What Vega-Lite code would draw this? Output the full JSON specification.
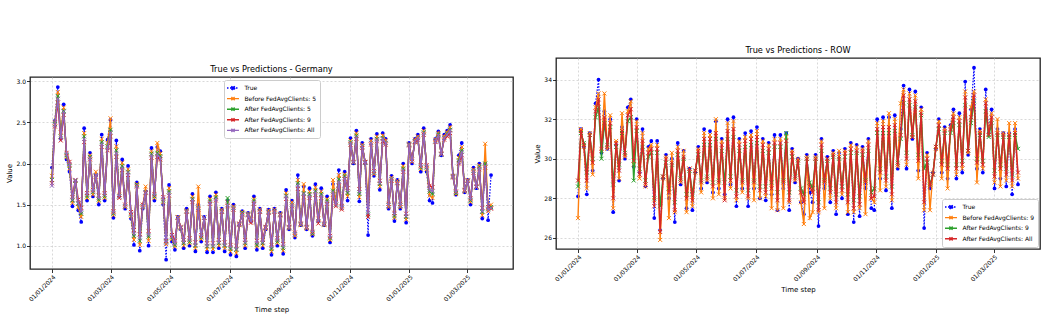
{
"$schema":"https://vega.github.io/schema/vega-lite/v6.json",
"padding":{"left":5,"top":45,"right":4,"bottom":2},
"datasets":{"ts":[
{"d":"2024-01-01","gt":1.95,"gb":1.85,"g5":1.80,"g9":1.76,"ga":1.73,"rt":28.1,"rb":27.0,"r9":28.6,"ra":28.9},
{"d":"2024-01-04","gt":2.52,"gb":2.50,"g5":2.48,"g9":2.45,"ga":2.47,"rt":31.5,"rb":31.5,"r9":31.3,"ra":31.4},
{"d":"2024-01-07","gt":2.93,"gb":2.87,"g5":2.82,"g9":2.74,"ga":2.79,"rt":30.6,"rb":30.6,"r9":30.8,"ra":30.7},
{"d":"2024-01-10","gt":2.30,"gb":2.38,"g5":2.33,"g9":2.28,"ga":2.31,"rt":28.2,"rb":28.5,"r9":29.3,"ra":28.9},
{"d":"2024-01-13","gt":2.72,"gb":2.68,"g5":2.64,"g9":2.59,"ga":2.63,"rt":31.3,"rb":31.3,"r9":31.2,"ra":31.2},
{"d":"2024-01-16","gt":2.05,"gb":2.08,"g5":2.10,"g9":2.13,"ga":2.11,"rt":29.4,"rb":29.2,"r9":30.0,"ra":29.8},
{"d":"2024-01-19","gt":1.90,"gb":1.94,"g5":1.97,"g9":2.02,"ga":1.99,"rt":32.8,"rb":32.6,"r9":32.1,"ra":32.4},
{"d":"2024-01-22","gt":1.48,"gb":1.52,"g5":1.55,"g9":1.59,"ga":1.56,"rt":34.0,"rb":33.3,"r9":32.6,"ra":33.0},
{"d":"2024-01-25","gt":1.78,"gb":1.79,"g5":1.79,"g9":1.80,"ga":1.80,"rt":30.3,"rb":30.4,"r9":30.0,"ra":30.5},
{"d":"2024-01-28","gt":1.43,"gb":1.47,"g5":1.51,"g9":1.56,"ga":1.52,"rt":32.4,"rb":33.3,"r9":31.8,"ra":32.1},
{"d":"2024-01-31","gt":1.29,"gb":1.35,"g5":1.39,"g9":1.46,"ga":1.41,"rt":30.5,"rb":30.5,"r9":30.7,"ra":30.6},
{"d":"2024-02-03","gt":2.43,"gb":2.37,"g5":2.33,"g9":2.26,"ga":2.30,"rt":32.0,"rb":32.2,"r9":31.6,"ra":31.8},
{"d":"2024-02-06","gt":1.55,"gb":1.58,"g5":1.60,"g9":1.64,"ga":1.62,"rt":27.3,"rb":27.5,"r9":28.7,"ra":28.0},
{"d":"2024-02-09","gt":2.13,"gb":2.10,"g5":2.08,"g9":2.05,"ga":2.07,"rt":30.7,"rb":30.9,"r9":30.6,"ra":30.8},
{"d":"2024-02-12","gt":1.60,"gb":1.62,"g5":1.65,"g9":1.68,"ga":1.66,"rt":28.9,"rb":29.0,"r9":29.7,"ra":29.4},
{"d":"2024-02-15","gt":1.86,"gb":1.90,"g5":1.86,"g9":1.84,"ga":1.86,"rt":31.6,"rb":32.3,"r9":31.3,"ra":31.4},
{"d":"2024-02-18","gt":1.50,"gb":1.54,"g5":1.56,"g9":1.61,"ga":1.58,"rt":30.0,"rb":30.1,"r9":30.3,"ra":30.2},
{"d":"2024-02-21","gt":2.35,"gb":2.30,"g5":2.26,"g9":2.20,"ga":2.24,"rt":32.6,"rb":32.4,"r9":31.9,"ra":32.2},
{"d":"2024-02-24","gt":1.55,"gb":1.58,"g5":1.60,"g9":1.64,"ga":1.62,"rt":33.0,"rb":32.9,"r9":32.1,"ra":32.5},
{"d":"2024-02-27","gt":2.29,"gb":2.25,"g5":2.21,"g9":2.16,"ga":2.19,"rt":29.6,"rb":29.7,"r9":28.9,"ra":29.9},
{"d":"2024-03-01","gt":2.53,"gb":2.55,"g5":2.41,"g9":2.33,"ga":2.38,"rt":32.0,"rb":31.9,"r9":31.4,"ra":31.6},
{"d":"2024-03-04","gt":1.34,"gb":1.37,"g5":1.39,"g9":1.42,"ga":1.40,"rt":29.3,"rb":29.0,"r9":29.5,"ra":29.2},
{"d":"2024-03-07","gt":2.28,"gb":2.21,"g5":2.16,"g9":2.08,"ga":2.13,"rt":31.5,"rb":31.3,"r9":30.6,"ra":30.9},
{"d":"2024-03-10","gt":1.60,"gb":1.62,"g5":1.60,"g9":1.58,"ga":1.60,"rt":28.6,"rb":28.6,"r9":28.9,"ra":28.7},
{"d":"2024-03-13","gt":2.05,"gb":2.01,"g5":1.97,"g9":1.92,"ga":1.95,"rt":30.6,"rb":30.5,"r9":30.1,"ra":30.3},
{"d":"2024-03-16","gt":1.45,"gb":1.47,"g5":1.48,"g9":1.50,"ga":1.48,"rt":30.9,"rb":30.7,"r9":30.3,"ra":30.5},
{"d":"2024-03-19","gt":1.97,"gb":1.93,"g5":1.90,"g9":1.86,"ga":1.89,"rt":27.0,"rb":27.9,"r9":28.0,"ra":27.6},
{"d":"2024-03-22","gt":1.33,"gb":1.36,"g5":1.38,"g9":1.41,"ga":1.39,"rt":30.9,"rb":30.7,"r9":30.3,"ra":30.5},
{"d":"2024-03-25","gt":1.01,"gb":1.07,"g5":1.12,"g9":1.19,"ga":1.14,"rt":26.4,"rb":25.9,"r9":27.6,"ra":26.3},
{"d":"2024-03-28","gt":1.77,"gb":1.75,"g5":1.74,"g9":1.72,"ga":1.73,"rt":29.0,"rb":29.0,"r9":29.1,"ra":29.1},
{"d":"2024-03-31","gt":0.94,"gb":1.01,"g5":1.06,"g9":1.14,"ga":1.09,"rt":30.2,"rb":30.1,"r9":29.8,"ra":30.0},
{"d":"2024-04-03","gt":1.45,"gb":1.47,"g5":1.48,"g9":1.50,"ga":1.48,"rt":28.0,"rb":27.0,"r9":28.5,"ra":28.3},
{"d":"2024-04-06","gt":1.66,"gb":1.72,"g5":1.65,"g9":1.64,"ga":1.65,"rt":30.0,"rb":30.3,"r9":29.7,"ra":29.8},
{"d":"2024-04-09","gt":1.00,"gb":1.06,"g5":1.11,"g9":1.18,"ga":1.13,"rt":26.8,"rb":27.3,"r9":27.8,"ra":27.4},
{"d":"2024-04-12","gt":2.19,"gb":2.15,"g5":2.12,"g9":2.07,"ga":2.10,"rt":30.8,"rb":30.6,"r9":30.2,"ra":30.4},
{"d":"2024-04-15","gt":1.55,"gb":1.58,"g5":1.60,"g9":1.63,"ga":1.61,"rt":28.7,"rb":28.8,"r9":29.0,"ra":28.9},
{"d":"2024-04-18","gt":2.20,"gb":2.25,"g5":2.13,"g9":2.08,"ga":2.11,"rt":30.4,"rb":30.4,"r9":30.0,"ra":30.1},
{"d":"2024-04-21","gt":2.15,"gb":2.12,"g5":2.09,"g9":2.05,"ga":2.07,"rt":27.5,"rb":27.3,"r9":28.2,"ra":28.0},
{"d":"2024-04-24","gt":1.50,"gb":1.53,"g5":1.55,"g9":1.59,"ga":1.57,"rt":29.5,"rb":29.5,"r9":29.4,"ra":29.5},
{"d":"2024-04-27","gt":0.83,"gb":1.02,"g5":1.05,"g9":1.06,"ga":1.04,"rt":27.4,"rb":27.6,"r9":28.2,"ra":27.9},
{"d":"2024-04-30","gt":1.74,"gb":1.70,"g5":1.66,"g9":1.61,"ga":1.64,"rt":29.3,"rb":29.3,"r9":29.4,"ra":29.4},
{"d":"2024-05-03","gt":1.05,"gb":1.08,"g5":1.10,"g9":1.13,"ga":1.11,"rt":30.6,"rb":30.5,"r9":30.2,"ra":30.4},
{"d":"2024-05-06","gt":0.95,"gb":0.99,"g5":1.01,"g9":1.06,"ga":1.03,"rt":28.5,"rb":28.3,"r9":28.9,"ra":28.8},
{"d":"2024-05-09","gt":1.35,"gb":1.35,"g5":1.34,"g9":1.34,"ga":1.34,"rt":31.5,"rb":31.3,"r9":30.7,"ra":31.0},
{"d":"2024-05-12","gt":1.20,"gb":1.21,"g5":1.22,"g9":1.23,"ga":1.22,"rt":28.8,"rb":28.9,"r9":29.1,"ra":29.0},
{"d":"2024-05-15","gt":0.97,"gb":1.00,"g5":1.03,"g9":1.07,"ga":1.04,"rt":31.4,"rb":31.2,"r9":30.7,"ra":31.0},
{"d":"2024-05-18","gt":1.45,"gb":1.43,"g5":1.42,"g9":1.41,"ga":1.42,"rt":28.3,"rb":28.0,"r9":28.8,"ra":28.6},
{"d":"2024-05-21","gt":1.00,"gb":1.03,"g5":1.05,"g9":1.09,"ga":1.07,"rt":31.9,"rb":32.0,"r9":31.0,"ra":31.3},
{"d":"2024-05-24","gt":1.63,"gb":1.60,"g5":1.57,"g9":1.53,"ga":1.56,"rt":28.5,"rb":28.2,"r9":28.9,"ra":28.8},
{"d":"2024-05-27","gt":0.93,"gb":0.97,"g5":1.00,"g9":1.04,"ga":1.01,"rt":31.0,"rb":30.9,"r9":30.4,"ra":30.7},
{"d":"2024-05-30","gt":1.50,"gb":1.72,"g5":1.46,"g9":1.44,"ga":1.46,"rt":28.2,"rb":28.0,"r9":28.8,"ra":27.9},
{"d":"2024-06-02","gt":1.05,"gb":1.08,"g5":1.10,"g9":1.13,"ga":1.11,"rt":32.0,"rb":31.8,"r9":31.0,"ra":31.4},
{"d":"2024-06-05","gt":1.35,"gb":1.34,"g5":1.34,"g9":1.34,"ga":1.34,"rt":28.7,"rb":28.5,"r9":29.1,"ra":28.9},
{"d":"2024-06-08","gt":0.92,"gb":0.96,"g5":0.99,"g9":1.03,"ga":1.00,"rt":32.1,"rb":31.9,"r9":31.1,"ra":31.5},
{"d":"2024-06-11","gt":1.60,"gb":1.57,"g5":1.55,"g9":1.51,"ga":1.53,"rt":27.6,"rb":27.9,"r9":28.4,"ra":28.1},
{"d":"2024-06-14","gt":0.92,"gb":0.96,"g5":0.99,"g9":1.03,"ga":1.00,"rt":31.0,"rb":30.9,"r9":30.4,"ra":30.7},
{"d":"2024-06-17","gt":1.65,"gb":1.62,"g5":1.59,"g9":1.55,"ga":1.57,"rt":28.5,"rb":28.3,"r9":28.9,"ra":28.8},
{"d":"2024-06-20","gt":0.97,"gb":1.00,"g5":1.03,"g9":1.07,"ga":1.04,"rt":31.3,"rb":31.1,"r9":30.6,"ra":30.9},
{"d":"2024-06-23","gt":1.45,"gb":1.44,"g5":1.42,"g9":1.41,"ga":1.42,"rt":27.6,"rb":28.0,"r9":28.4,"ra":28.1},
{"d":"2024-06-26","gt":0.93,"gb":0.97,"g5":1.00,"g9":1.04,"ga":1.01,"rt":31.4,"rb":31.2,"r9":30.7,"ra":31.0},
{"d":"2024-06-29","gt":1.55,"gb":1.53,"g5":1.58,"g9":1.48,"ga":1.50,"rt":28.5,"rb":27.9,"r9":28.9,"ra":28.8},
{"d":"2024-07-02","gt":0.89,"gb":0.93,"g5":0.96,"g9":1.01,"ga":0.98,"rt":31.6,"rb":31.4,"r9":30.8,"ra":31.1},
{"d":"2024-07-05","gt":1.50,"gb":1.48,"g5":1.46,"g9":1.44,"ga":1.46,"rt":28.0,"rb":28.0,"r9":28.6,"ra":28.4},
{"d":"2024-07-08","gt":0.87,"gb":0.91,"g5":0.95,"g9":1.00,"ga":0.96,"rt":31.0,"rb":30.9,"r9":30.4,"ra":30.7},
{"d":"2024-07-11","gt":1.25,"gb":1.25,"g5":1.26,"g9":1.27,"ga":1.26,"rt":27.9,"rb":28.1,"r9":28.6,"ra":28.3},
{"d":"2024-07-14","gt":1.42,"gb":1.41,"g5":1.40,"g9":1.38,"ga":1.39,"rt":30.8,"rb":30.7,"r9":30.3,"ra":30.5},
{"d":"2024-07-17","gt":0.97,"gb":1.00,"g5":1.03,"g9":1.07,"ga":1.04,"rt":28.2,"rb":27.5,"r9":28.8,"ra":28.5},
{"d":"2024-07-20","gt":1.40,"gb":1.39,"g5":1.38,"g9":1.37,"ga":1.38,"rt":31.2,"rb":31.0,"r9":30.6,"ra":30.8},
{"d":"2024-07-23","gt":1.30,"gb":1.32,"g5":1.30,"g9":1.28,"ga":1.30,"rt":27.4,"rb":27.4,"r9":28.3,"ra":27.9},
{"d":"2024-07-26","gt":1.60,"gb":1.57,"g5":1.55,"g9":1.51,"ga":1.53,"rt":31.2,"rb":31.0,"r9":30.6,"ra":30.8},
{"d":"2024-07-29","gt":0.95,"gb":0.99,"g5":1.01,"g9":1.06,"ga":1.03,"rt":28.5,"rb":27.5,"r9":28.9,"ra":28.8},
{"d":"2024-08-01","gt":1.45,"gb":1.44,"g5":1.42,"g9":1.41,"ga":1.42,"rt":31.3,"rb":31.1,"r9":31.3,"ra":30.9},
{"d":"2024-08-04","gt":0.97,"gb":1.00,"g5":1.03,"g9":1.07,"ga":1.04,"rt":27.4,"rb":27.8,"r9":28.3,"ra":27.9},
{"d":"2024-08-07","gt":1.20,"gb":1.21,"g5":1.22,"g9":1.23,"ga":1.22,"rt":30.5,"rb":30.4,"r9":30.1,"ra":30.3},
{"d":"2024-08-10","gt":1.44,"gb":1.43,"g5":1.41,"g9":1.40,"ga":1.41,"rt":28.8,"rb":28.9,"r9":29.1,"ra":29.0},
{"d":"2024-08-13","gt":0.89,"gb":0.93,"g5":0.96,"g9":1.01,"ga":0.98,"rt":30.0,"rb":30.0,"r9":29.8,"ra":29.9},
{"d":"2024-08-16","gt":1.45,"gb":1.44,"g5":1.42,"g9":1.41,"ga":1.42,"rt":27.8,"rb":27.8,"r9":28.5,"ra":28.3},
{"d":"2024-08-19","gt":1.00,"gb":1.03,"g5":1.05,"g9":1.09,"ga":1.07,"rt":27.2,"rb":26.7,"r9":28.2,"ra":27.8},
{"d":"2024-08-22","gt":1.40,"gb":1.39,"g5":1.38,"g9":1.37,"ga":1.38,"rt":30.2,"rb":30.1,"r9":30.0,"ra":30.0},
{"d":"2024-08-25","gt":0.90,"gb":0.94,"g5":0.97,"g9":1.02,"ga":0.99,"rt":28.3,"rb":27.0,"r9":28.8,"ra":28.6},
{"d":"2024-08-28","gt":1.68,"gb":1.64,"g5":1.61,"g9":1.57,"ga":1.60,"rt":27.8,"rb":27.3,"r9":28.5,"ra":28.3},
{"d":"2024-08-31","gt":1.20,"gb":1.21,"g5":1.22,"g9":1.23,"ga":1.22,"rt":30.2,"rb":30.1,"r9":30.0,"ra":30.0},
{"d":"2024-09-03","gt":1.55,"gb":1.53,"g5":1.50,"g9":1.48,"ga":1.50,"rt":26.6,"rb":27.3,"r9":27.8,"ra":27.4},
{"d":"2024-09-06","gt":1.10,"gb":1.12,"g5":1.14,"g9":1.16,"ga":1.14,"rt":31.0,"rb":30.9,"r9":30.4,"ra":30.7},
{"d":"2024-09-09","gt":1.86,"gb":1.80,"g5":1.76,"g9":1.69,"ga":1.74,"rt":28.5,"rb":27.5,"r9":28.9,"ra":28.8},
{"d":"2024-09-12","gt":1.25,"gb":1.25,"g5":1.26,"g9":1.27,"ga":1.26,"rt":30.1,"rb":30.0,"r9":29.9,"ra":30.0},
{"d":"2024-09-15","gt":1.72,"gb":1.75,"g5":1.64,"g9":1.59,"ga":1.63,"rt":27.8,"rb":28.0,"r9":28.5,"ra":28.3},
{"d":"2024-09-18","gt":1.20,"gb":1.21,"g5":1.22,"g9":1.23,"ga":1.22,"rt":30.4,"rb":30.3,"r9":30.1,"ra":30.2},
{"d":"2024-09-21","gt":1.70,"gb":1.66,"g5":1.63,"g9":1.58,"ga":1.61,"rt":27.2,"rb":27.5,"r9":28.2,"ra":27.8},
{"d":"2024-09-24","gt":1.12,"gb":1.14,"g5":1.15,"g9":1.17,"ga":1.16,"rt":30.3,"rb":30.4,"r9":30.0,"ra":30.1},
{"d":"2024-09-27","gt":1.75,"gb":1.71,"g5":1.67,"g9":1.62,"ga":1.65,"rt":28.0,"rb":28.2,"r9":28.6,"ra":28.4},
{"d":"2024-09-30","gt":1.30,"gb":1.33,"g5":1.30,"g9":1.27,"ga":1.30,"rt":30.5,"rb":30.4,"r9":30.1,"ra":30.3},
{"d":"2024-10-03","gt":1.70,"gb":1.66,"g5":1.63,"g9":1.58,"ga":1.61,"rt":27.2,"rb":27.3,"r9":28.2,"ra":27.8},
{"d":"2024-10-06","gt":1.25,"gb":1.25,"g5":1.26,"g9":1.27,"ga":1.26,"rt":30.8,"rb":30.7,"r9":30.3,"ra":30.5},
{"d":"2024-10-09","gt":1.60,"gb":1.57,"g5":1.55,"g9":1.51,"ga":1.53,"rt":26.8,"rb":27.3,"r9":27.9,"ra":27.5},
{"d":"2024-10-12","gt":1.04,"gb":1.07,"g5":1.09,"g9":1.12,"ga":1.10,"rt":30.7,"rb":30.6,"r9":30.3,"ra":30.4},
{"d":"2024-10-15","gt":1.75,"gb":1.80,"g5":1.67,"g9":1.62,"ga":1.65,"rt":27.1,"rb":27.5,"r9":28.1,"ra":27.7},
{"d":"2024-10-18","gt":1.55,"gb":1.53,"g5":1.50,"g9":1.48,"ga":1.50,"rt":30.6,"rb":30.5,"r9":30.2,"ra":30.4},
{"d":"2024-10-21","gt":1.92,"gb":1.86,"g5":1.81,"g9":1.73,"ga":1.78,"rt":28.5,"rb":27.2,"r9":28.9,"ra":28.8},
{"d":"2024-10-24","gt":1.50,"gb":1.48,"g5":1.46,"g9":1.44,"ga":1.46,"rt":31.0,"rb":30.9,"r9":30.4,"ra":30.7},
{"d":"2024-10-27","gt":1.90,"gb":1.87,"g5":1.85,"g9":1.81,"ga":1.83,"rt":27.5,"rb":28.0,"r9":28.3,"ra":28.0},
{"d":"2024-10-30","gt":1.55,"gb":1.60,"g5":1.64,"g9":1.70,"ga":1.66,"rt":27.4,"rb":27.8,"r9":28.5,"ra":28.1},
{"d":"2024-11-02","gt":2.31,"gb":2.28,"g5":2.26,"g9":2.23,"ga":2.25,"rt":32.0,"rb":31.8,"r9":31.3,"ra":31.5},
{"d":"2024-11-05","gt":2.00,"gb":2.01,"g5":2.01,"g9":2.02,"ga":2.01,"rt":29.0,"rb":28.4,"r9":29.5,"ra":29.3},
{"d":"2024-11-08","gt":2.40,"gb":2.37,"g5":2.34,"g9":2.30,"ga":2.32,"rt":32.1,"rb":31.9,"r9":31.3,"ra":31.6},
{"d":"2024-11-11","gt":1.54,"gb":1.59,"g5":1.63,"g9":1.69,"ga":1.65,"rt":28.4,"rb":28.6,"r9":29.1,"ra":28.9},
{"d":"2024-11-14","gt":2.25,"gb":2.23,"g5":2.21,"g9":2.19,"ga":2.21,"rt":32.1,"rb":32.3,"r9":31.3,"ra":31.6},
{"d":"2024-11-17","gt":2.00,"gb":2.01,"g5":2.01,"g9":2.02,"ga":2.01,"rt":27.5,"rb":27.9,"r9":28.6,"ra":28.2},
{"d":"2024-11-20","gt":1.13,"gb":1.58,"g5":1.38,"g9":1.35,"ga":1.40,"rt":32.2,"rb":32.0,"r9":31.4,"ra":31.7},
{"d":"2024-11-23","gt":2.30,"gb":2.28,"g5":2.25,"g9":2.23,"ga":2.25,"rt":29.5,"rb":29.6,"r9":29.8,"ra":29.7},
{"d":"2024-11-26","gt":1.85,"gb":1.87,"g5":1.89,"g9":1.91,"ga":1.89,"rt":31.5,"rb":32.8,"r9":31.0,"ra":31.2},
{"d":"2024-11-29","gt":2.36,"gb":2.33,"g5":2.30,"g9":2.27,"ga":2.29,"rt":33.7,"rb":33.5,"r9":32.8,"ra":33.2},
{"d":"2024-12-02","gt":1.68,"gb":1.72,"g5":1.75,"g9":1.79,"ga":1.76,"rt":29.5,"rb":29.7,"r9":30.3,"ra":30.0},
{"d":"2024-12-05","gt":2.37,"gb":2.34,"g5":2.31,"g9":2.27,"ga":2.30,"rt":33.5,"rb":33.3,"r9":32.7,"ra":33.0},
{"d":"2024-12-08","gt":2.30,"gb":2.28,"g5":2.25,"g9":2.23,"ga":2.25,"rt":31.0,"rb":31.1,"r9":31.2,"ra":31.1},
{"d":"2024-12-11","gt":1.45,"gb":1.47,"g5":1.49,"g9":1.51,"ga":1.49,"rt":33.4,"rb":33.2,"r9":32.6,"ra":32.9},
{"d":"2024-12-14","gt":1.85,"gb":1.83,"g5":1.81,"g9":1.79,"ga":1.81,"rt":29.4,"rb":29.0,"r9":30.2,"ra":29.9},
{"d":"2024-12-17","gt":1.30,"gb":1.34,"g5":1.36,"g9":1.40,"ga":1.38,"rt":32.6,"rb":32.5,"r9":32.2,"ra":32.3},
{"d":"2024-12-20","gt":1.80,"gb":1.79,"g5":1.77,"g9":1.76,"ga":1.77,"rt":26.5,"rb":27.4,"r9":29.5,"ra":27.8},
{"d":"2024-12-23","gt":1.45,"gb":1.47,"g5":1.49,"g9":1.51,"ga":1.49,"rt":30.3,"rb":30.2,"r9":29.8,"ra":30.0},
{"d":"2024-12-26","gt":2.00,"gb":1.97,"g5":1.94,"g9":1.90,"ga":1.92,"rt":28.5,"rb":27.4,"r9":28.7,"ra":28.6},
{"d":"2024-12-29","gt":1.28,"gb":1.32,"g5":1.35,"g9":1.39,"ga":1.36,"rt":29.3,"rb":29.3,"r9":29.2,"ra":29.2},
{"d":"2025-01-01","gt":2.25,"gb":2.24,"g5":2.23,"g9":2.22,"ga":2.23,"rt":30.5,"rb":30.5,"r9":30.6,"ra":30.6},
{"d":"2025-01-04","gt":2.00,"gb":2.02,"g5":2.03,"g9":2.05,"ga":2.03,"rt":32.0,"rb":31.9,"r9":31.5,"ra":31.7},
{"d":"2025-01-07","gt":2.30,"gb":2.29,"g5":2.27,"g9":2.26,"ga":2.27,"rt":29.3,"rb":29.0,"r9":29.9,"ra":29.7},
{"d":"2025-01-10","gt":2.35,"gb":2.33,"g5":2.31,"g9":2.29,"ga":2.31,"rt":31.6,"rb":31.5,"r9":31.3,"ra":31.4},
{"d":"2025-01-13","gt":1.90,"gb":1.93,"g5":1.95,"g9":1.98,"ga":1.96,"rt":29.0,"rb":28.5,"r9":29.7,"ra":29.5},
{"d":"2025-01-16","gt":2.43,"gb":2.40,"g5":2.38,"g9":2.35,"ga":2.37,"rt":31.7,"rb":31.6,"r9":31.3,"ra":31.5},
{"d":"2025-01-19","gt":1.90,"gb":1.93,"g5":1.95,"g9":1.98,"ga":1.96,"rt":32.5,"rb":32.3,"r9":31.8,"ra":32.1},
{"d":"2025-01-22","gt":1.55,"gb":1.61,"g5":1.66,"g9":1.73,"ga":1.68,"rt":29.0,"rb":29.2,"r9":29.7,"ra":29.5},
{"d":"2025-01-25","gt":1.52,"gb":1.58,"g5":1.63,"g9":1.71,"ga":1.66,"rt":32.3,"rb":32.1,"r9":31.7,"ra":31.9},
{"d":"2025-01-28","gt":2.30,"gb":2.29,"g5":2.27,"g9":2.26,"ga":2.27,"rt":29.3,"rb":29.5,"r9":29.9,"ra":29.7},
{"d":"2025-01-31","gt":2.39,"gb":2.37,"g5":2.35,"g9":2.32,"ga":2.34,"rt":33.9,"rb":33.4,"r9":32.7,"ra":33.1},
{"d":"2025-02-03","gt":2.10,"gb":2.11,"g5":2.11,"g9":2.12,"ga":2.11,"rt":30.2,"rb":30.3,"r9":30.4,"ra":30.4},
{"d":"2025-02-06","gt":2.35,"gb":2.33,"g5":2.31,"g9":2.29,"ga":2.31,"rt":32.5,"rb":32.6,"r9":31.8,"ra":32.1},
{"d":"2025-02-09","gt":2.40,"gb":2.38,"g5":2.36,"g9":2.33,"ga":2.35,"rt":34.6,"rb":33.4,"r9":32.9,"ra":33.2},
{"d":"2025-02-12","gt":2.47,"gb":2.44,"g5":2.41,"g9":2.37,"ga":2.40,"rt":29.5,"rb":28.8,"r9":30.0,"ra":29.8},
{"d":"2025-02-15","gt":1.86,"gb":1.85,"g5":1.84,"g9":1.83,"ga":1.84,"rt":31.5,"rb":31.4,"r9":31.2,"ra":31.3},
{"d":"2025-02-18","gt":1.62,"gb":1.63,"g5":1.64,"g9":1.66,"ga":1.65,"rt":29.3,"rb":29.5,"r9":29.9,"ra":29.7},
{"d":"2025-02-21","gt":2.10,"gb":2.07,"g5":2.04,"g9":2.00,"ga":2.02,"rt":33.5,"rb":33.0,"r9":32.4,"ra":32.8},
{"d":"2025-02-24","gt":2.25,"gb":2.20,"g5":2.16,"g9":2.10,"ga":2.14,"rt":31.3,"rb":31.2,"r9":31.1,"ra":31.2},
{"d":"2025-02-27","gt":1.65,"gb":1.66,"g5":1.67,"g9":1.68,"ga":1.67,"rt":32.5,"rb":32.3,"r9":31.8,"ra":32.1},
{"d":"2025-03-02","gt":1.80,"gb":1.80,"g5":1.79,"g9":1.79,"ga":1.79,"rt":28.5,"rb":28.8,"r9":29.4,"ra":29.1},
{"d":"2025-03-05","gt":1.50,"gb":1.53,"g5":1.55,"g9":1.58,"ga":1.56,"rt":31.5,"rb":32.0,"r9":31.2,"ra":31.3},
{"d":"2025-03-08","gt":1.95,"gb":1.93,"g5":1.91,"g9":1.89,"ga":1.91,"rt":29.0,"rb":28.6,"r9":29.7,"ra":29.5},
{"d":"2025-03-11","gt":1.70,"gb":1.71,"g5":1.71,"g9":1.72,"ga":1.71,"rt":31.3,"rb":31.3,"r9":31.1,"ra":31.2},
{"d":"2025-03-14","gt":2.00,"gb":1.98,"g5":1.96,"g9":1.93,"ga":1.95,"rt":28.6,"rb":28.9,"r9":29.5,"ra":29.2},
{"d":"2025-03-17","gt":1.33,"gb":1.37,"g5":1.41,"g9":1.46,"ga":1.42,"rt":31.3,"rb":31.8,"r9":31.1,"ra":31.2},
{"d":"2025-03-20","gt":2.00,"gb":2.24,"g5":2.00,"g9":1.95,"ga":1.97,"rt":28.2,"rb":28.6,"r9":29.2,"ra":28.9},
{"d":"2025-03-23","gt":1.31,"gb":1.42,"g5":1.45,"g9":1.47,"ga":1.44,"rt":31.5,"rb":31.8,"r9":31.2,"ra":31.3},
{"d":"2025-03-26","gt":1.86,"gb":1.50,"g5":1.47,"g9":1.45,"ga":1.46,"rt":28.7,"rb":29.0,"r9":30.5,"ra":29.3}
]},
"data":{"name":"ts"},
"spacing":19,
"resolve":{"scale":{"x":"independent","y":"independent","color":"independent"},"legend":{"color":"independent"}},
"hconcat":[
{"spacing":0,
 "resolve":{"scale":{"color":"independent"},"legend":{"color":"independent"}},
 "vconcat":[
 {"width":483,"height":6,"view":{"stroke":null},"mark":{"type":"rule","opacity":0},"encoding":{}},
 {
 "width":483,"height":192,
 "title":"True vs Predictions - Germany",
 "encoding":{"x":{"field":"d","type":"temporal","title":"Time step",
   "scale":{"type":"utc","domain":[{"year":2023,"month":12,"date":9,"hours":12,"utc":true},{"year":2025,"month":4,"date":17,"hours":12,"utc":true}]},
   "axis":{"values":[{"year":2024,"month":1,"date":1,"utc":true},{"year":2024,"month":3,"date":1,"utc":true},{"year":2024,"month":5,"date":1,"utc":true},{"year":2024,"month":7,"date":1,"utc":true},{"year":2024,"month":9,"date":1,"utc":true},{"year":2024,"month":11,"date":1,"utc":true},{"year":2025,"month":1,"date":1,"utc":true},{"year":2025,"month":3,"date":1,"utc":true}],
    "labelExpr":"utcFormat(datum.value, '%d/%m/%Y')","labelAngle":-45,"labelAlign":"right","labelBaseline":"top"}}},
 "layer":[
 {"mark":{"type":"line","color":"#0000ff","strokeWidth":1.2,"strokeDash":[1.5,1.5],"point":{"filled":true,"size":14}},
  "encoding":{"y":{"field":"gt","type":"quantitative","title":"Value","scale":{"domain":[0.717,3.052],"nice":false,"zero":false},"axis":{"values":[1.0,1.5,2.0,2.5,3.0],"format":".1f"}},
   "color":{"datum":"True","type":"nominal",
    "scale":{"domain":["True","Before FedAvgClients: 5","After FedAvgClients: 5","After FedAvgClients: 9","After FedAvgClients: All"],"range":["#0000ff","#ff7f0e","#2ca02c","#d62728","#9467bd"]},
    "legend":{"title":null,"orient":"none","legendX":194,"legendY":3,
     "encode":{"symbols":{"update":{
      "shape":{"signal":"datum.value === 'True' ? 'M-1.5,0H1.5M0.45,0A0.45,0.45,0,1,1,-0.45,0A0.45,0.45,0,1,1,0.45,0' : 'M-1.5,0H1.5M-0.4,-0.4L0.4,0.4M-0.4,0.4L0.4,-0.4'"},
      "strokeDash":{"signal":"datum.value === 'True' ? [1.5,1.5] : [1,0]"},
      "fill":{"signal":"datum.value === 'True' ? '#0000ff' : 'transparent'"}}}}}}}},
 {"mark":{"type":"line","strokeWidth":1.4,"point":{"shape":"M-1,-1L1,1M-1,1L1,-1","filled":false,"size":16,"strokeWidth":1}},
  "encoding":{"y":{"field":"gb","type":"quantitative","title":"Value"},"color":{"datum":"Before FedAvgClients: 5","type":"nominal"}}},
 {"mark":{"type":"line","strokeWidth":1.4,"point":{"shape":"M-1,-1L1,1M-1,1L1,-1","filled":false,"size":16,"strokeWidth":1}},
  "encoding":{"y":{"field":"g5","type":"quantitative","title":"Value"},"color":{"datum":"After FedAvgClients: 5","type":"nominal"}}},
 {"mark":{"type":"line","strokeWidth":1.4,"point":{"shape":"M-1,-1L1,1M-1,1L1,-1","filled":false,"size":16,"strokeWidth":1}},
  "encoding":{"y":{"field":"g9","type":"quantitative","title":"Value"},"color":{"datum":"After FedAvgClients: 9","type":"nominal"}}},
 {"mark":{"type":"line","strokeWidth":1.4,"point":{"shape":"M-1,-1L1,1M-1,1L1,-1","filled":false,"size":16,"strokeWidth":1}},
  "encoding":{"y":{"field":"ga","type":"quantitative","title":"Value"},"color":{"datum":"After FedAvgClients: All","type":"nominal"}}}
 ]
 }
 ]
},
{
"width":484,"height":191,
"title":"True vs Predictions - ROW",
"encoding":{"x":{"field":"d","type":"temporal","title":"Time step",
  "scale":{"type":"utc","domain":[{"year":2023,"month":12,"date":9,"hours":12,"utc":true},{"year":2025,"month":4,"date":17,"hours":12,"utc":true}]},
  "axis":{"values":[{"year":2024,"month":1,"date":1,"utc":true},{"year":2024,"month":3,"date":1,"utc":true},{"year":2024,"month":5,"date":1,"utc":true},{"year":2024,"month":7,"date":1,"utc":true},{"year":2024,"month":9,"date":1,"utc":true},{"year":2024,"month":11,"date":1,"utc":true},{"year":2025,"month":1,"date":1,"utc":true},{"year":2025,"month":3,"date":1,"utc":true}],
   "labelExpr":"utcFormat(datum.value, '%d/%m/%Y')","labelAngle":-45,"labelAlign":"right","labelBaseline":"top"}}},
"layer":[
{"mark":{"type":"line","color":"#0000ff","strokeWidth":1.2,"strokeDash":[1.5,1.5],"point":{"filled":true,"size":14}},
 "encoding":{"y":{"field":"rt","type":"quantitative","title":"Value","scale":{"domain":[25.44,35.09],"nice":false,"zero":false},"axis":{"values":[26,28,30,32,34]}},
  "color":{"datum":"True","type":"nominal",
   "scale":{"domain":["True","Before FedAvgClients: 9","After FedAvgClients: 9","After FedAvgClients: All"],"range":["#0000ff","#ff7f0e","#2ca02c","#d62728"]},
   "legend":{"title":null,"orient":"bottom-right","offset":2.5,
    "encode":{"symbols":{"update":{
     "shape":{"signal":"datum.value === 'True' ? 'M-1.5,0H1.5M0.45,0A0.45,0.45,0,1,1,-0.45,0A0.45,0.45,0,1,1,0.45,0' : 'M-1.5,0H1.5M-0.4,-0.4L0.4,0.4M-0.4,0.4L0.4,-0.4'"},
     "strokeDash":{"signal":"datum.value === 'True' ? [1.5,1.5] : [1,0]"},
     "fill":{"signal":"datum.value === 'True' ? '#0000ff' : 'transparent'"}}}}}}}},
{"mark":{"type":"line","strokeWidth":1.4,"point":{"shape":"M-1,-1L1,1M-1,1L1,-1","filled":false,"size":16,"strokeWidth":1}},
 "encoding":{"y":{"field":"rb","type":"quantitative","title":"Value"},"color":{"datum":"Before FedAvgClients: 9","type":"nominal"}}},
{"mark":{"type":"line","strokeWidth":1.4,"point":{"shape":"M-1,-1L1,1M-1,1L1,-1","filled":false,"size":16,"strokeWidth":1}},
 "encoding":{"y":{"field":"r9","type":"quantitative","title":"Value"},"color":{"datum":"After FedAvgClients: 9","type":"nominal"}}},
{"mark":{"type":"line","strokeWidth":1.4,"point":{"shape":"M-1,-1L1,1M-1,1L1,-1","filled":false,"size":16,"strokeWidth":1}},
 "encoding":{"y":{"field":"ra","type":"quantitative","title":"Value"},"color":{"datum":"After FedAvgClients: All","type":"nominal"}}}
]
}
],
"config":{
 "font":"DejaVu Sans",
 "view":{"stroke":"#222222","strokeWidth":1.3},
 "axis":{"labelFontSize":6,"titleFontSize":7,"titleFontWeight":"normal","labelColor":"#000000","titleColor":"#000000","tickColor":"#000000","tickSize":3.5,"tickWidth":0.8,"labelPadding":1,"titlePadding":3,"domain":false,"grid":true,"gridColor":"#c8c8c8","gridDash":[2,2],"gridWidth":0.7},
 "title":{"fontSize":8.2,"fontWeight":"normal","color":"#000000","offset":3},
 "legend":{"labelFontSize":6,"labelColor":"#000000","symbolSize":64,"symbolStrokeWidth":1.4,"symbolOffset":1,"padding":3,"fillColor":"#ffffff","strokeColor":"#cccccc","cornerRadius":2,"rowPadding":0.6,"labelOffset":6.5,"labelLimit":300}
}
}
